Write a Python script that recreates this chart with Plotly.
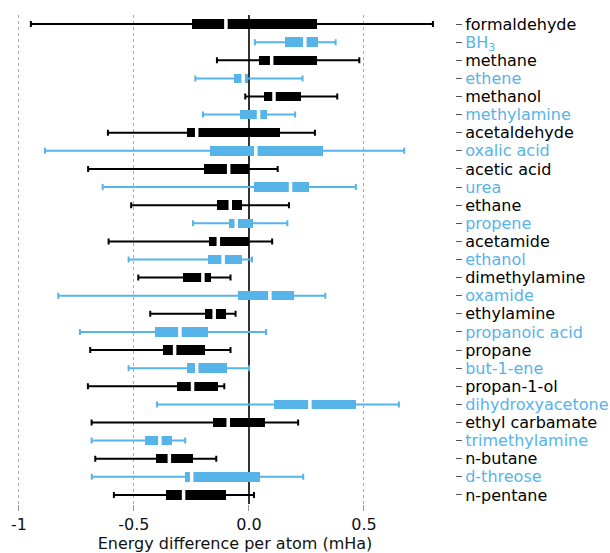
import plotly.graph_objects as go

names = ["formaldehyde", "BH<sub>3</sub>", "methane", "ethene", "methanol", "methylamine",
         "acetaldehyde", "oxalic acid", "acetic acid", "urea", "ethane", "propene",
         "acetamide", "ethanol", "dimethylamine", "oxamide", "ethylamine", "propanoic acid",
         "propane", "but-1-ene", "propan-1-ol", "dihydroxyacetone", "ethyl carbamate",
         "trimethylamine", "n-butane", "d-threose", "n-pentane"]
w_lo = [-0.948, 0.026, -0.139, -0.233, -0.016, -0.200, -0.613, -0.887, -0.699, -0.636,
        -0.512, -0.243, -0.610, -0.523, -0.481, -0.829, -0.429, -0.735, -0.690, -0.523,
        -0.700, -0.400, -0.684, -0.684, -0.668, -0.683, -0.587]
q1 = [-0.249, 0.157, 0.045, -0.065, 0.067, -0.038, -0.271, -0.171, -0.196, 0.023,
      -0.138, -0.088, -0.174, -0.180, -0.287, -0.049, -0.190, -0.407, -0.373, -0.270,
      -0.314, 0.107, -0.158, -0.452, -0.406, -0.277, -0.362]
med = [-0.100, 0.243, 0.099, -0.025, 0.109, 0.042, -0.227, 0.030, -0.088, 0.181,
       -0.081, -0.055, -0.133, -0.112, -0.200, 0.091, -0.151, -0.300, -0.323, -0.227,
       -0.245, 0.265, -0.090, -0.387, -0.346, -0.249, -0.284]
q3 = [0.297, 0.299, 0.294, -0.003, 0.226, 0.078, 0.136, 0.320, 0.000, 0.260,
      -0.032, 0.016, 0.000, -0.028, -0.167, 0.194, -0.101, -0.178, -0.190, -0.097,
      -0.136, 0.465, 0.070, -0.336, -0.245, 0.046, -0.101]
w_hi = [0.800, 0.377, 0.480, 0.233, 0.384, 0.201, 0.287, 0.675, 0.125, 0.465,
        0.174, 0.167, 0.101, 0.013, -0.080, 0.332, -0.058, 0.074, -0.080, 0.001,
        -0.107, 0.652, 0.214, -0.277, -0.142, 0.236, 0.022]
x_ticks = [-1, -0.5, 0, 0.5]
x_ticklabels = ["-1", "-0.5", "0.0", "0.5"]

BLACK = "#000000"
BLUE = "#56B4E9"
colors = [BLACK if i % 2 == 0 else BLUE for i in range(len(names))]

fig = go.Figure()

for col in (BLACK, BLUE):
    idx = [i for i in range(len(names)) if colors[i] == col]
    # boxes (interquartile range)
    fig.add_trace(go.Bar(
        orientation="h", y=idx, base=[q1[i] for i in idx],
        x=[q3[i] - q1[i] for i in idx], width=0.52,
        marker=dict(color=col, line=dict(width=0)), showlegend=False, hoverinfo="skip"))

for col in (BLACK, BLUE):
    idx = [i for i in range(len(names)) if colors[i] == col]
    # whiskers with caps
    fig.add_trace(go.Scatter(
        x=[med[i] for i in idx], y=idx, mode="markers",
        marker=dict(size=1, color="rgba(0,0,0,0)"),
        error_x=dict(type="data", symmetric=False,
                     array=[w_hi[i] - med[i] for i in idx],
                     arrayminus=[med[i] - w_lo[i] for i in idx],
                     color=col, thickness=2, width=3),
        showlegend=False, hoverinfo="skip"))

# median gaps
fig.add_trace(go.Scatter(
    x=med, y=list(range(len(names))), mode="markers",
    marker=dict(symbol="line-ns", size=13, line=dict(color="white", width=3.5)),
    showlegend=False, hoverinfo="skip"))

ticktext = [f'<span style="color:{c}">{n}</span>' for n, c in zip(names, colors)]

fig.update_layout(
    width=610, height=553,
    margin=dict(l=15, r=155, t=15, b=49),
    plot_bgcolor="white", paper_bgcolor="white",
    font=dict(family="DejaVu Sans", size=16, color="#111111"),
    bargap=0,
    xaxis=dict(
        range=[-1.017, 0.896], tickvals=x_ticks, ticktext=x_ticklabels,
        showgrid=True, gridcolor="#aaaaaa", griddash="dot", gridwidth=1,
        zeroline=True, zerolinecolor="#333333", zerolinewidth=1.5,
        ticks="outside", ticklen=6, tickcolor="#999999", tickwidth=1,
        showline=False,
        title=dict(text="Energy difference per atom (mHa)", standoff=10,
                   font=dict(size=16)),
        automargin=False,
    ),
    yaxis=dict(
        range=[26.5, -0.5], tickvals=list(range(len(names))), ticktext=ticktext,
        side="right", showgrid=False, zeroline=False, showline=False,
        ticks="outside", ticklen=6, tickcolor="#555555", tickwidth=1,
        automargin=False,
    ),
)

fig.write_html("out.html", config={"displayModeBar": False},
               post_script="document.body.style.margin='0';document.body.style.overflow='hidden';")
